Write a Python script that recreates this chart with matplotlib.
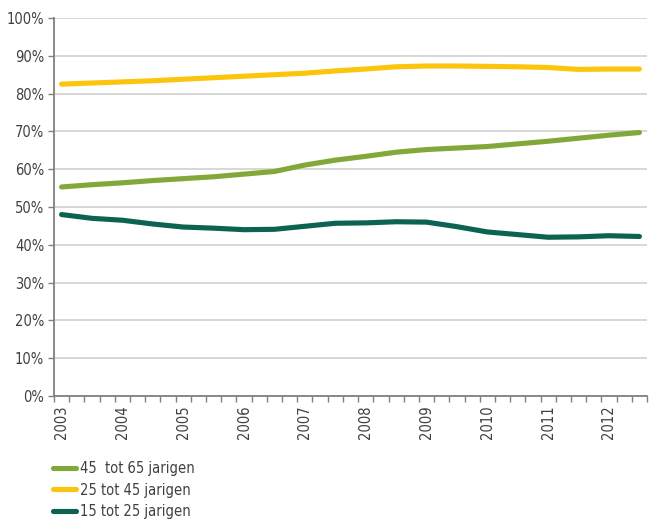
import matplotlib.pyplot as plt
from matplotlib import font_manager

names = {f.name for f in font_manager.fontManager.ttflist}
if 'Liberation Sans Narrow' in names:
    plt.rcParams['font.family'] = ['Liberation Sans Narrow', 'DejaVu Sans']
else:
    plt.rcParams['font.family'] = ['DejaVu Sans']
    plt.rcParams['font.stretch'] = 'condensed'

years = ['2003', '2004', '2005', '2006', '2007', '2008', '2009', '2010', '2011', '2012']
# half-yearly observations, 2003 H1 .. 2012 H2 (placed on a quarterly category axis)
age_45_65 = [55.3, 55.9, 56.4, 57.0, 57.5, 58.0, 58.7, 59.4, 61.1, 62.4,
             63.4, 64.5, 65.2, 65.6, 66.0, 66.7, 67.4, 68.2, 69.0, 69.7]
age_25_45 = [82.5, 82.8, 83.1, 83.4, 83.8, 84.2, 84.6, 85.0, 85.4, 86.0,
             86.5, 87.1, 87.3, 87.3, 87.2, 87.1, 86.9, 86.4, 86.5, 86.5]
age_15_25 = [48.0, 47.0, 46.5, 45.5, 44.7, 44.4, 44.0, 44.1, 44.9, 45.7,
             45.8, 46.1, 46.0, 44.8, 43.4, 42.7, 42.0, 42.1, 42.4, 42.2]

x = [2 * i for i in range(len(age_45_65))]

fig = plt.figure(figsize=(6.49, 5.2), dpi=100)
ax = fig.add_axes([54 / 649, 1 - 396 / 520, 593 / 649, 378 / 520])

c_green = '#82A83A'
c_yellow = '#FDC40E'
c_dark = '#0C6352'
lw = 3.7
ax.plot(x, age_45_65, color=c_green, lw=lw, solid_capstyle='round', solid_joinstyle='round', label='45  tot 65 jarigen')
ax.plot(x, age_25_45, color=c_yellow, lw=lw, solid_capstyle='round', solid_joinstyle='round', label='25 tot 45 jarigen')
ax.plot(x, age_15_25, color=c_dark, lw=lw, solid_capstyle='round', solid_joinstyle='round', label='15 tot 25 jarigen')

ax.set_xlim(-0.5, 38.5)
ax.set_ylim(0, 100)
ax.set_yticks(range(0, 101, 10))
ax.set_yticklabels([f'{v}%' for v in range(0, 101, 10)])
ax.set_xticks([i - 0.5 for i in range(40)])
ax.set_xticklabels([])
ax.set_xticks([4 * i for i in range(len(years))], minor=True)
ax.set_xticklabels(years, minor=True, rotation=90)
ax.tick_params(axis='x', which='major', length=4, color='#808080', width=1)
ax.tick_params(axis='x', which='minor', length=0, pad=7, labelsize=10.5, labelcolor='#404040')
ax.tick_params(axis='y', length=4, color='#808080', width=1, labelsize=10.5, labelcolor='#404040', pad=3)

ax.grid(axis='y', color='#D4D4D4', lw=1.3)
ax.set_axisbelow(True)
for s in ['top', 'right']:
    ax.spines[s].set_visible(False)
for s in ['left', 'bottom']:
    ax.spines[s].set_color('#808080')
    ax.spines[s].set_linewidth(1.3)

leg = fig.legend(loc='upper left', bbox_to_anchor=(53 / 649, 1 - 461 / 520), frameon=False,
                 fontsize=10.5, handlelength=1.6, handletextpad=0.25, labelspacing=0.45,
                 borderaxespad=0, borderpad=0)
for t in leg.get_texts():
    t.set_color('#404040')

fig.savefig('out.png', dpi=100)
